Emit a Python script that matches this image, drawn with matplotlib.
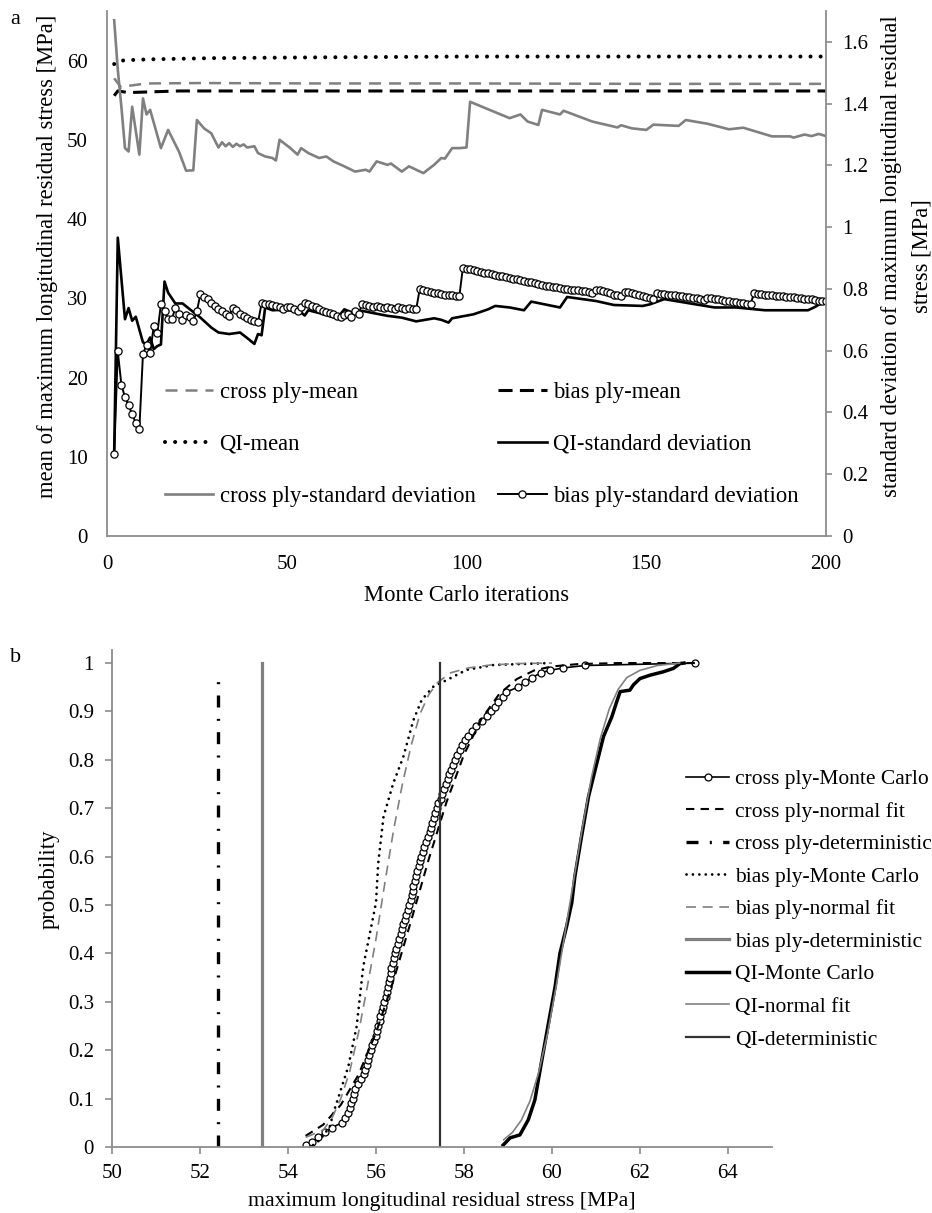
import numpy as np
import matplotlib
matplotlib.use("Agg")
import matplotlib.pyplot as plt
from matplotlib.ticker import FuncFormatter

plt.rcParams["font.family"] = ["Liberation Serif", "DejaVu Serif"]
plt.rcParams["font.size"] = 15

GRAY = "#808080"
SPINE = "#8c8c8c"

# ---------------- panel a: convergence of mean / std ----------------
# means (left axis, MPa), knots
cross_mean_it = [2, 4, 6, 11, 26, 60, 100, 150, 200]
cross_mean = [57.8, 56.6, 56.85, 57.15, 57.2, 57.15, 57.15, 57.1, 57.1]
bias_mean_it = [2, 3, 6, 20, 100, 200]
bias_mean = [55.6, 56.2, 56.0, 56.2, 56.2, 56.2]
qi_mean_it = [2, 3, 6, 12, 30, 60, 100, 200]
qi_mean = [59.6, 60.0, 60.1, 60.2, 60.35, 60.45, 60.55, 60.55]

# standard deviations (right axis, MPa)
cross_std_it = [2, 3, 4, 5, 6, 7, 9, 10, 11, 12, 15, 17, 20, 22, 24, 25, 27, 29,
                31, 32, 33, 34, 35, 36, 37, 38, 39, 41, 42, 44, 46, 47, 48, 51,
                53, 54, 56, 59, 61, 63, 66, 69, 72, 73, 75, 78, 79, 82, 84, 86,
                88, 91, 93, 94, 96, 98, 100, 101, 112, 115, 117, 120, 121, 126,
                127, 135, 142, 143, 146, 150, 152, 159, 161, 167, 173, 177, 185,
                190, 191, 194, 196, 198, 200]
cross_std = [1.67, 1.51, 1.39, 1.256, 1.245, 1.39, 1.235, 1.417, 1.365, 1.38,
             1.256, 1.315, 1.245, 1.183, 1.184, 1.347, 1.32, 1.304, 1.258, 1.275,
             1.262, 1.272, 1.26, 1.27, 1.262, 1.268, 1.258, 1.262, 1.24, 1.229,
             1.224, 1.216, 1.283, 1.256, 1.235, 1.256, 1.24, 1.224, 1.229, 1.213,
             1.197, 1.18, 1.186, 1.18, 1.213, 1.202, 1.206, 1.18, 1.197, 1.186,
             1.175, 1.202, 1.224, 1.222, 1.256, 1.256, 1.258, 1.406, 1.353, 1.365,
             1.342, 1.331, 1.38, 1.365, 1.377, 1.342, 1.323, 1.33, 1.32, 1.315,
             1.332, 1.328, 1.347, 1.335, 1.317, 1.322, 1.294, 1.294, 1.29, 1.30,
             1.295, 1.302, 1.295]

qi_std_it = [2, 3, 5, 6, 7, 8, 10, 11, 12, 13, 14, 15, 16, 17, 19, 21, 26, 29,
             31, 34, 37, 39, 41, 42, 43, 44, 46, 50, 54, 55, 56, 61, 64, 66, 69,
             71, 74, 78, 82, 86, 91, 93, 95, 96, 102, 106, 108, 112, 116, 118,
             126, 128, 136, 141, 149, 151, 155, 169, 175, 183, 195, 197, 200]
qi_std = [0.27, 0.966, 0.702, 0.738, 0.697, 0.71, 0.627, 0.622, 0.643, 0.605,
          0.615, 0.62, 0.824, 0.788, 0.753, 0.753, 0.707, 0.675, 0.659, 0.654,
          0.659, 0.641, 0.622, 0.654, 0.65, 0.74, 0.731, 0.733, 0.724, 0.714,
          0.731, 0.716, 0.705, 0.734, 0.72, 0.729, 0.722, 0.713, 0.707, 0.695,
          0.705, 0.70, 0.691, 0.705, 0.718, 0.734, 0.745, 0.74, 0.731, 0.759,
          0.74, 0.774, 0.761, 0.748, 0.745, 0.75, 0.767, 0.74, 0.74, 0.731,
          0.731, 0.742, 0.764]

# bias ply std, one value per iteration 2..200
bias_std = [
    0.265, 0.598, 0.49, 0.449, 0.423, 0.394, 0.366, 0.345,
    0.589, 0.619, 0.591, 0.68, 0.656, 0.751, 0.727, 0.702, 0.702, 0.737,
    0.72, 0.699, 0.715, 0.708, 0.695, 0.727, 0.785, 0.774, 0.766, 0.753,
    0.744, 0.734, 0.727, 0.718, 0.713, 0.738, 0.731, 0.72, 0.713, 0.706,
    0.701, 0.695, 0.692, 0.753, 0.752, 0.75, 0.748, 0.744, 0.74, 0.735,
    0.74, 0.742, 0.735, 0.729, 0.74, 0.753, 0.75, 0.745, 0.74, 0.736,
    0.73, 0.726, 0.722, 0.718, 0.712, 0.708, 0.715, 0.72, 0.71, 0.729,
    0.72, 0.751, 0.748, 0.744, 0.74, 0.745, 0.742, 0.738, 0.742, 0.739,
    0.736, 0.74, 0.737, 0.735, 0.738, 0.736, 0.734, 0.80, 0.797, 0.794,
    0.791, 0.788, 0.786, 0.784, 0.782, 0.78, 0.779, 0.777, 0.776, 0.869,
    0.866, 0.864, 0.861, 0.858, 0.856, 0.853, 0.851, 0.848, 0.846, 0.843,
    0.841, 0.838, 0.836, 0.833, 0.831, 0.829, 0.826, 0.824, 0.821, 0.818,
    0.815, 0.813, 0.811, 0.809, 0.807, 0.805, 0.803, 0.801, 0.80, 0.798,
    0.797, 0.795, 0.793, 0.792, 0.79, 0.788, 0.798, 0.796, 0.794, 0.79,
    0.786, 0.782, 0.779, 0.777, 0.791, 0.789, 0.786, 0.783, 0.78, 0.776,
    0.773, 0.77, 0.767, 0.786, 0.785, 0.784, 0.782, 0.781, 0.779, 0.778,
    0.777, 0.775, 0.774, 0.772, 0.77, 0.767, 0.763, 0.772, 0.77, 0.768,
    0.766, 0.764, 0.762, 0.761, 0.759, 0.757, 0.756, 0.754, 0.752, 0.751,
    0.786, 0.785, 0.783, 0.782, 0.781, 0.779, 0.778, 0.777, 0.776, 0.775,
    0.774, 0.773, 0.771, 0.77, 0.768, 0.767, 0.766, 0.764, 0.762, 0.761,
    0.761]
bias_std_it = np.arange(2, 2 + len(bias_std))

# ---------------- panel b: CDFs ----------------
cross_mc_p = [0.005] + [round(0.01 * k, 2) for k in range(1, 99)] + [0.985, 0.99, 0.995, 1.0]
cross_mc_x = [54.42, 54.55, 54.68, 54.85, 55.0, 55.22, 55.3, 55.36, 55.4, 55.44,
              55.47, 55.5, 55.53, 55.6, 55.67, 55.72, 55.76, 55.79, 55.82, 55.85,
              55.88, 55.91, 55.95, 55.99, 56.02, 56.05, 56.08, 56.1, 56.13, 56.16,
              56.19, 56.22, 56.25, 56.27, 56.29, 56.31, 56.33, 56.35, 56.38, 56.41,
              56.43, 56.46, 56.5, 56.53, 56.56, 56.59, 56.62, 56.65, 56.69, 56.73,
              56.76, 56.79, 56.81, 56.83, 56.85, 56.88, 56.91, 56.94, 56.97, 57.0,
              57.03, 57.07, 57.1, 57.14, 57.18, 57.22, 57.25, 57.28, 57.31, 57.34,
              57.38, 57.42, 57.47, 57.51, 57.55, 57.59, 57.63, 57.67, 57.71, 57.76,
              57.8, 57.85, 57.9, 57.96, 58.03, 58.1, 58.18, 58.28, 58.4, 58.52,
              58.62, 58.7, 58.78, 58.88, 58.96, 59.22, 59.38, 59.55, 59.75,
              59.95, 60.26, 60.75, 63.25]
cross_fit_x = [54.4, 54.8, 55.2, 55.6, 56.0, 56.4, 56.8, 57.2, 57.6, 58.0, 58.4,
               58.8, 59.2, 59.6, 60.0, 60.6, 61.5, 63.3]
cross_fit_p = [0.023, 0.046, 0.087, 0.149, 0.236, 0.345, 0.468, 0.595, 0.712,
               0.811, 0.885, 0.936, 0.967, 0.985, 0.993, 0.998, 1.0, 1.0]

bias_mc_x = [54.57, 54.73, 54.95, 55.03, 55.37, 55.56, 55.71, 55.86, 56.0, 56.05,
             56.17, 56.39, 56.62, 56.85, 57.04, 57.3, 57.61, 58.06, 58.67, 59.95]
bias_mc_p = [0.004, 0.015, 0.042, 0.07, 0.166, 0.249, 0.373, 0.441, 0.505, 0.586,
             0.682, 0.751, 0.806, 0.882, 0.924, 0.951, 0.965, 0.986, 0.996, 1.0]
bias_fit_x = [54.4, 54.8, 55.0, 55.2, 55.4, 55.6, 55.8, 56.0, 56.2, 56.4, 56.6,
              56.8, 57.0, 57.2, 57.4, 57.7, 58.1, 58.6, 59.2, 60.0]
bias_fit_p = [0.02, 0.035, 0.06, 0.1, 0.155, 0.235, 0.33, 0.43, 0.545, 0.655,
              0.75, 0.83, 0.895, 0.935, 0.96, 0.98, 0.99, 0.996, 0.999, 1.0]

qi_mc_x = [58.89, 59.05, 59.27, 59.46, 59.61, 59.77, 59.92, 60.07, 60.18, 60.33,
           60.45, 60.52, 60.67, 60.83, 60.98, 61.17, 61.36, 61.47, 61.55, 61.77,
           61.85, 62.0, 62.23, 62.53, 62.76, 62.91, 63.0]
qi_mc_p = [0.004, 0.019, 0.025, 0.056, 0.097, 0.18, 0.256, 0.331, 0.40, 0.455,
           0.505, 0.559, 0.641, 0.724, 0.779, 0.848, 0.889, 0.92, 0.941, 0.944,
           0.955, 0.968, 0.975, 0.982, 0.989, 0.999, 1.0]
qi_fit_x = [58.9, 59.1, 59.3, 59.5, 59.7, 59.9, 60.1, 60.3, 60.5, 60.7, 60.9,
            61.1, 61.3, 61.5, 61.7, 62.0, 62.4, 62.9]
qi_fit_p = [0.015, 0.03, 0.055, 0.095, 0.155, 0.235, 0.335, 0.445, 0.555, 0.665,
            0.765, 0.845, 0.905, 0.945, 0.97, 0.985, 0.995, 1.0]

# deterministic values [MPa] and the height the line is drawn to
cross_det, cross_det_top = 52.4, 0.975
bias_det, bias_det_top = 53.4, 1.0
qi_det, qi_det_top = 57.45, 1.0


fig = plt.figure(figsize=(9.32, 12.13), dpi=100)
W, H = 932.0, 1213.0
LBL = 16.3

# ---- panel a ----
ax = fig.add_axes([107 / W, 1 - 536 / H, 719 / W, 525 / H])
ax2 = ax.twinx()

h_cm, = ax.plot(cross_mean_it, cross_mean, color=GRAY, lw=1.8,
                ls=(0, (4.8, 3.2)), label="cross ply-mean")
h_bm, = ax.plot(bias_mean_it, bias_mean, color="black", lw=2.2,
                ls=(0, (4.6, 2.4)), label="bias ply-mean")
h_qm, = ax.plot(qi_mean_it, qi_mean, color="black", lw=2.9,
                ls=(0, (0.01, 2.5)), dash_capstyle="round", label="QI-mean")

h_cs, = ax2.plot(cross_std_it, cross_std, color=GRAY, lw=1.9,
                 label="cross ply-standard deviation")
h_qs, = ax2.plot(qi_std_it, qi_std, color="black", lw=1.9,
                 label="QI-standard deviation")
h_bs, = ax2.plot(bias_std_it, bias_std, color="black", lw=1.4, marker="o",
                 ms=5.2, mfc="white", mec="black", mew=0.9,
                 label="bias ply-standard deviation")

ax.set_xlim(0, 200)
ax.set_ylim(0, 66.3)
ax2.set_ylim(0, 1.70)
ax.set_xticks([0, 50, 100, 150, 200])
ax.set_yticks(range(0, 61, 10))
ax2.set_yticks(np.arange(0, 1.61, 0.2))
fmt = FuncFormatter(lambda v, p: "%g" % round(v, 2))
ax2.yaxis.set_major_formatter(fmt)

for s in ["top", "right"]:
    ax.spines[s].set_visible(False)
for s in ["top", "left", "bottom"]:
    ax2.spines[s].set_visible(False)
for s in ["left", "bottom"]:
    ax.spines[s].set_color(SPINE)
    ax.spines[s].set_linewidth(1.3)
ax2.spines["right"].set_color(SPINE)
ax2.spines["right"].set_linewidth(1.3)
ax.tick_params(axis="both", length=0, pad=14)
ax2.tick_params(axis="y", length=4.5, width=1.2, color=SPINE, pad=7)

ax.set_xlabel("Monte Carlo iterations", fontsize=LBL)
ax.xaxis.set_label_coords(0.5, -0.093)
ax.set_ylabel("mean of maximum longitudinal residual stress [MPa]", fontsize=LBL)
ax.yaxis.set_label_coords(-0.068, 0.533)
ax2.set_ylabel("standard deviation of maximum longitudinal residual\nstress [MPa]",
               fontsize=LBL, linespacing=1.6)
ax2.yaxis.set_label_coords(1.077, 0.533)

hs = [h_cm, h_qm, h_cs, h_bm, h_qs, h_bs]
ax2.legend(hs, [h.get_label() for h in hs], ncol=2, frameon=False,
           loc="upper left", bbox_to_anchor=(0.080, 0.293), borderpad=0,
           borderaxespad=0, handlelength=2.15, handletextpad=0.28,
           columnspacing=1.0, labelspacing=1.36, fontsize=LBL)

# ---- panel b ----
bx = fig.add_axes([112 / W, 1 - 1147 / H, 660 / W, 497 / H])

bx.plot(cross_mc_x, cross_mc_p, color="black", lw=1.2, marker="o", ms=5,
        mfc="white", mec="black", mew=0.9, label="cross ply-Monte Carlo")
bx.plot(cross_fit_x, cross_fit_p, color="black", lw=1.5, ls=(0, (4, 3)),
        label="cross ply-normal fit")
bx.plot([cross_det, cross_det], [0, cross_det_top], color="black", lw=2.4,
        ls=(0, (3.6, 3.4, 0.6, 3.4)), label="cross ply-deterministic")
bx.plot(bias_mc_x, bias_mc_p, color="black", lw=2.0, ls=(0, (0.01, 2.3)),
        dash_capstyle="round", label="bias ply-Monte Carlo")
bx.plot(bias_fit_x, bias_fit_p, color=GRAY, lw=1.2, ls=(0, (6, 4)),
        label="bias ply-normal fit")
bx.plot([bias_det, bias_det], [0, bias_det_top], color=GRAY, lw=2.3,
        label="bias ply-deterministic")
bx.plot(qi_mc_x, qi_mc_p, color="black", lw=2.5, label="QI-Monte Carlo")
bx.plot(qi_fit_x, qi_fit_p, color=GRAY, lw=1.2, label="QI-normal fit")
bx.plot([qi_det, qi_det], [0, qi_det_top], color="#333333", lw=1.6,
        label="QI-deterministic")

bx.set_xlim(50, 65)
bx.set_ylim(0, 1.027)
bx.set_xticks(range(50, 65, 2))
bx.set_yticks(np.arange(0, 1.01, 0.1))
bx.yaxis.set_major_formatter(fmt)
for s in ["top", "right"]:
    bx.spines[s].set_visible(False)
for s in ["left", "bottom"]:
    bx.spines[s].set_color(SPINE)
    bx.spines[s].set_linewidth(1.3)
bx.tick_params(axis="both", length=5, width=1.2, color=SPINE)
bx.tick_params(axis="y", pad=8)
bx.tick_params(axis="x", pad=7)
bx.set_xlabel("maximum longitudinal residual stress [MPa]", fontsize=15.7)
bx.xaxis.set_label_coords(0.5, -0.09)
bx.set_ylabel("probability", fontsize=16.3)
bx.yaxis.set_label_coords(-0.079, 0.539)

h, l = bx.get_legend_handles_labels()
fig.legend(h, l, loc="upper left", bbox_to_anchor=(686 / W, 1 - 769 / H),
           frameon=False, borderpad=0, borderaxespad=0, handlelength=2.0,
           handletextpad=0.28, labelspacing=0.58, fontsize=15.5)

fig.text(15 / W, 1 - 20 / H, "a", ha="center", va="center", fontsize=16)
fig.text(16 / W, 1 - 658 / H, "b", ha="center", va="center", fontsize=16)

fig.savefig("out.png", dpi=100)
